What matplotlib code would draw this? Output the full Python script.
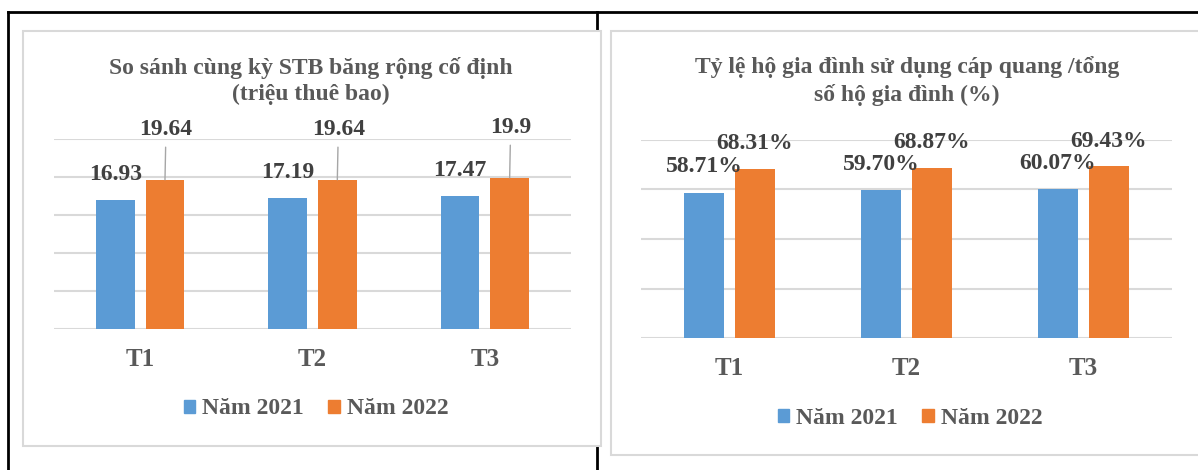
import numpy as np
import matplotlib
matplotlib.use('Agg')
from matplotlib import pyplot as plt
from matplotlib.patches import Rectangle, Patch
from matplotlib.lines import Line2D

plt.rcParams['font.family'] = ['Liberation Serif', 'DejaVu Serif']
plt.rcParams['font.weight'] = 'bold'

months = ['T1', 'T2', 'T3']
series = ['Năm 2021', 'Năm 2022']
stb_2021 = [16.93, 17.19, 17.47]
stb_2022 = [19.64, 19.64, 19.9]
fiber_2021 = [58.71, 59.70, 60.07]
fiber_2022 = [68.31, 68.87, 69.43]
title_left = 'So sánh cùng kỳ STB băng rộng cố định\n(triệu thuê bao)'
title_right = 'Tỷ lệ hộ gia đình sử dụng cáp quang /tổng\nsố hộ gia đình (%)'

BLUE = '#5b9bd5'
ORANGE = '#ed7d31'
GRID = '#d9d9d9'
TXT = '#595959'
LBL = '#404040'

W, H = 1198, 470
fig = plt.figure(figsize=(W / 100, H / 100), dpi=100)


def px(x0, y0, x1, y1):
    # pixel box (top-left origin) -> figure fraction rect
    return [x0 / W, 1 - y1 / H, (x1 - x0) / W, (y1 - y0) / H]


# table lines behind the charts
fig.add_artist(Line2D([8 / W, 1], [1 - 12 / H] * 2, color='black', lw=2, zorder=-3))
fig.add_artist(Line2D([8 / W] * 2, [0, 1 - 12 / H], color='black', lw=2, zorder=-3))
fig.add_artist(Line2D([597 / W] * 2, [0, 1 - 12 / H], color='black', lw=2, zorder=-3))

# chart panels
for (x0, y0, x1, y1) in [(23, 31, 601, 446), (611, 31, 1205, 455)]:
    r = px(x0, y0, x1, y1)
    fig.add_artist(Rectangle((r[0], r[1]), r[2], r[3], transform=fig.transFigure,
                             facecolor='white', edgecolor=GRID, lw=1.5, zorder=-2))


def draw(rect, v1, v2, ymax, step, fmt, leader, title, tx, leg_xy):
    ax = fig.add_axes(px(*rect))
    x = np.arange(len(months))
    w = 0.226
    off = 0.144
    ax.bar(x - off, v1, w, color=BLUE, zorder=3)
    ax.bar(x + off, v2, w, color=ORANGE, zorder=3)
    ax.set_xlim(-0.5, len(months) - 0.5)
    ax.set_ylim(0, ymax)
    ax.set_yticks(np.arange(0, ymax + 0.1, step))
    ax.yaxis.grid(True, color=GRID, lw=1.5, zorder=0)
    ax.tick_params(axis='y', left=False, labelleft=False)
    ax.tick_params(axis='x', bottom=False, pad=10, labelsize=18, labelcolor=TXT)
    ax.set_xticks(x)
    ax.set_xticklabels(months, fontweight='bold')
    for s in ax.spines.values():
        s.set_visible(False)
    ax.patch.set_alpha(0)

    for xi, v in zip(x - off, v1):
        ax.annotate(fmt(v), (xi, v), xytext=(0, 26), textcoords='offset pixels',
                    ha='center', va='center', fontsize=17, color=LBL, fontweight='bold')
    for xi, v in zip(x + off, v2):
        if leader:
            ax.annotate(fmt(v), (xi, v), xytext=(1, 50), textcoords='offset pixels',
                        ha='center', va='center', fontsize=17, color=LBL, fontweight='bold',
                        arrowprops=dict(arrowstyle='-', color='#a6a6a6', lw=1,
                                        shrinkA=3, shrinkB=0))
        else:
            ax.annotate(fmt(v), (xi, v), xytext=(0, 25), textcoords='offset pixels',
                        ha='center', va='center', fontsize=17, color=LBL, fontweight='bold')

    fig.text(tx / W, 1 - 81 / H, title, ha='center', va='center', fontsize=17,
             color=TXT, fontweight='bold', linespacing=1.3)

    handles = [Patch(color=BLUE), Patch(color=ORANGE)]
    fig.legend(handles, series, loc='center', bbox_to_anchor=(leg_xy[0] / W, 1 - leg_xy[1] / H),
               ncol=2, frameon=False, fontsize=17, labelcolor=TXT, handlelength=0.48,
               handleheight=0.48, handletextpad=0.3, columnspacing=1.05)


draw((54, 139, 571, 329), stb_2021, stb_2022, 25, 5,
     lambda v: f'{v:g}', True, title_left, 311, (316, 409))
draw((641, 140, 1172, 338), fiber_2021, fiber_2022, 80, 20,
     lambda v: f'{v:.2f}%', False, title_right, 907, (910, 418))

fig.savefig('out.png', dpi=100, facecolor='white')
